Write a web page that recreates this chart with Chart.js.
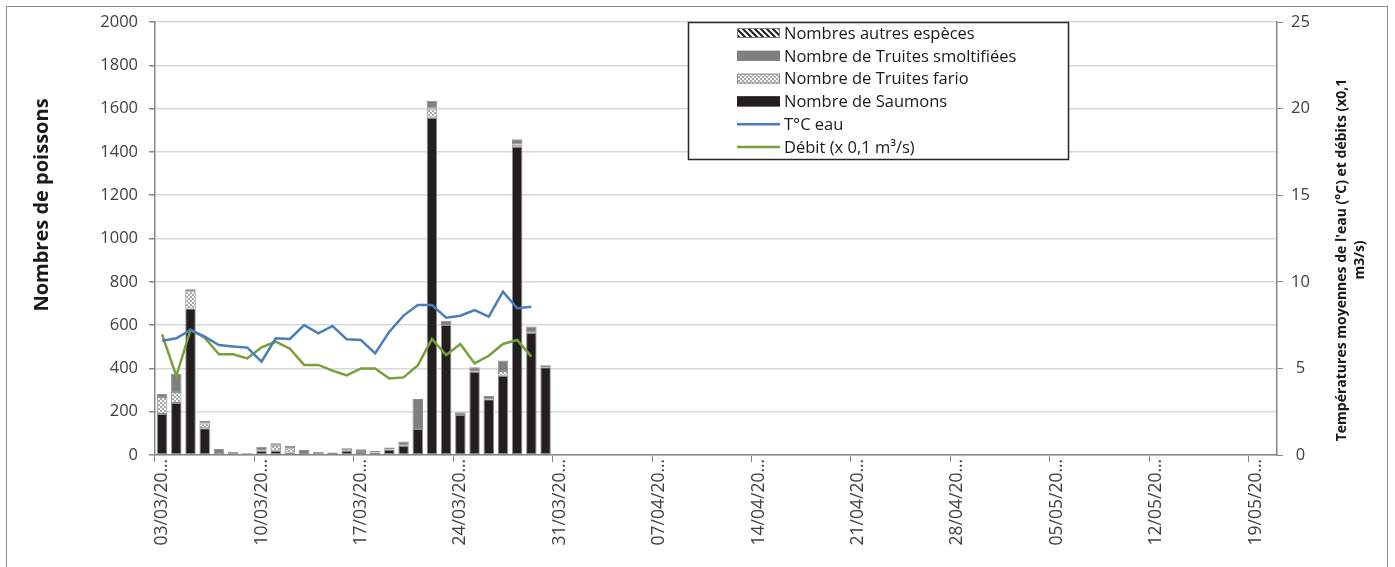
<!DOCTYPE html>
<html>
<head>
<meta charset="utf-8">
<title>Passages de poissons</title>
<script src="https://cdn.jsdelivr.net/npm/chart.js@4.4.0/dist/chart.umd.min.js"></script>
<style>
  html, body { margin: 0; padding: 0; background: #fff; }
  #wrap { position: relative; width: 1395px; height: 567px; }
</style>
</head>
<body>
<div id="wrap"><canvas id="fishChart" width="1395" height="567"></canvas></div>
<script>
// jours de piégeage
const jours = [
  '03/03','04/03','05/03','06/03','07/03','08/03','09/03','10/03','11/03','12/03',
  '13/03','14/03','15/03','16/03','17/03','18/03','19/03','20/03','21/03','22/03',
  '23/03','24/03','25/03','26/03','27/03','28/03','29/03','30/03','31/03',
  '01/04','02/04','03/04','04/04','05/04','06/04','07/04','08/04','09/04','10/04',
  '11/04','12/04','13/04','14/04','15/04','16/04','17/04','18/04','19/04','20/04',
  '21/04','22/04','23/04','24/04','25/04','26/04','27/04','28/04','29/04','30/04',
  '01/05','02/05','03/05','04/05','05/05','06/05','07/05','08/05','09/05','10/05',
  '11/05','12/05','13/05','14/05','15/05','16/05','17/05','18/05','19/05','20/05'
];

const saumons = [189, 240, 677, 123, 3, 0, 3, 20, 20, 11, 5, 0, 0, 20, 14, 11, 25, 43, 120, 1558, 600, 185, 385, 257, 366, 1424, 565, 405];
const truitesFario = [79, 51, 79, 23, 0, 0, 0, 0, 23, 20, 0, 0, 0, 0, 0, 0, 0, 0, 0, 43, 0, 0, 0, 0, 22, 10, 0, 0];
const truitesSmolt = [14, 83, 10, 11, 25, 15, 5, 18, 11, 11, 18, 15, 12, 11, 12, 7, 10, 19, 139, 34, 20, 12, 20, 15, 48, 24, 28, 9];
const autresEspeces = [0, 0, 0, 0, 0, 0, 0, 0, 0, 0, 0, 0, 0, 0, 0, 0, 0, 0, 0, 0, 0, 0, 0, 0, 0, 0, 0, 0];

const tempEau = [6.6, 6.74, 7.22, 6.83, 6.35, 6.27, 6.2, 5.39, 6.74, 6.7, 7.5, 7.02, 7.45, 6.68, 6.64, 5.87, 7.12, 8.05, 8.66, 8.66, 7.93, 8.04, 8.37, 7.99, 9.43, 8.47, 8.56];
const debit = [6.97, 4.56, 7.22, 6.77, 5.81, 5.81, 5.58, 6.22, 6.54, 6.14, 5.2, 5.2, 4.87, 4.6, 5.0, 5.0, 4.42, 4.48, 5.17, 6.7, 5.77, 6.41, 5.29, 5.73, 6.41, 6.64, 5.68];

const ticksPoissons = [0, 200, 400, 600, 800, 1000, 1200, 1400, 1600, 1800, 2000];
const ticksTemp = [0, 5, 10, 15, 20, 25];

const FONT = "'Open Sans', 'DejaVu Sans', sans-serif";
const AXE = '#868686';

// motifs de remplissage
function motifPoints() {
  const c = document.createElement('canvas');
  c.width = 4; c.height = 4;
  const g = c.getContext('2d');
  g.fillStyle = '#a9a9a9'; g.fillRect(0, 0, 4, 4);
  g.fillStyle = '#f4f4f4';
  g.fillRect(0, 0, 2, 2); g.fillRect(2, 2, 2, 2);
  return g.createPattern(c, 'repeat');
}
function motifHachures() {
  const c = document.createElement('canvas');
  c.width = 6; c.height = 6;
  const g = c.getContext('2d');
  g.fillStyle = '#ffffff'; g.fillRect(0, 0, 6, 6);
  g.strokeStyle = '#1e1e1e'; g.lineWidth = 2;
  g.beginPath();
  g.moveTo(-1, -1); g.lineTo(7, 7);
  g.moveTo(-4, 2); g.lineTo(4, 10);
  g.moveTo(2, -4); g.lineTo(10, 4);
  g.stroke();
  return g.createPattern(c, 'repeat');
}
const fillFario = motifPoints();
const fillAutres = motifHachures();

const legendeItems = [
  { txt: 'Nombres autres espèces', type: 'box', fill: fillAutres, stroke: '#7f7f7f' },
  { txt: 'Nombre de Truites smoltifiées', type: 'box', fill: '#7f7f7f', stroke: '#7f7f7f' },
  { txt: 'Nombre de Truites fario', type: 'box', fill: fillFario, stroke: '#8c8c8c' },
  { txt: 'Nombre de Saumons', type: 'box', fill: '#231f20', stroke: '#231f20' },
  { txt: 'T°C eau', type: 'line', stroke: '#4a7ebb' },
  { txt: 'Débit (x 0,1 m³/s)', type: 'line', stroke: '#77a03c' }
];

const habillage = {
  id: 'habillage',
  afterDraw(chart) {
    const ctx = chart.ctx;
    ctx.save();
    // cadre extérieur
    ctx.strokeStyle = '#8c8c8c';
    ctx.lineWidth = 1;
    ctx.strokeRect(6.5, 6.5, 1381, 620);

    // titres des axes
    ctx.fillStyle = '#1a1a1a';
    ctx.textAlign = 'center';
    ctx.textBaseline = 'middle';
    ctx.save();
    ctx.translate(42, 205);
    ctx.rotate(-Math.PI / 2);
    ctx.font = 'bold 20px ' + FONT;
    ctx.fillText('Nombres de poissons', 0, 0);
    ctx.restore();

    ctx.save();
    ctx.translate(1342, 260);
    ctx.rotate(-Math.PI / 2);
    ctx.font = 'bold 14px ' + FONT;
    ctx.fillText("Températures moyennes de l'eau (°C) et débits (x0,1", 0, 0);
    ctx.fillText('m3/s)', 0, 18);
    ctx.restore();

    // légende
    ctx.fillStyle = '#ffffff';
    ctx.fillRect(688, 22, 381, 138);
    ctx.strokeStyle = '#262626';
    ctx.lineWidth = 1.5;
    ctx.strokeRect(688.5, 22.5, 380, 137);
    ctx.font = '16.5px ' + FONT;
    ctx.textAlign = 'left';
    legendeItems.forEach((it, i) => {
      const y = 33 + i * 22.8;
      if (it.type === 'box') {
        ctx.fillStyle = it.fill;
        ctx.fillRect(737, y - 5, 43, 10);
        ctx.strokeStyle = it.stroke;
        ctx.lineWidth = 1;
        ctx.strokeRect(737.5, y - 4.5, 42, 9);
      } else {
        ctx.strokeStyle = it.stroke;
        ctx.lineWidth = 2.5;
        ctx.beginPath();
        ctx.moveTo(737, y);
        ctx.lineTo(780, y);
        ctx.stroke();
      }
      ctx.fillStyle = '#1a1a1a';
      ctx.fillText(it.txt, 784, y + 1);
    });
    ctx.restore();
  }
};

const barreCommun = {
  type: 'bar',
  yAxisID: 'y',
  stack: 'poissons',
  order: 2,
  barPercentage: 0.74,
  categoryPercentage: 1,
  borderWidth: 1,
  borderSkipped: false
};

new Chart(document.getElementById('fishChart'), {
  data: {
    labels: jours,
    datasets: [
      { ...barreCommun, label: 'Nombre de Saumons', data: saumons, backgroundColor: '#231f20', borderColor: '#8f8f8f' },
      { ...barreCommun, label: 'Nombre de Truites fario', data: truitesFario, backgroundColor: fillFario, borderColor: '#8f8f8f' },
      { ...barreCommun, label: 'Nombre de Truites smoltifiées', data: truitesSmolt, backgroundColor: '#7f7f7f', borderColor: '#8f8f8f' },
      { ...barreCommun, label: 'Nombres autres espèces', data: autresEspeces, backgroundColor: fillAutres, borderColor: '#8f8f8f' },
      {
        type: 'line', label: 'T°C eau', data: tempEau, yAxisID: 'y1', order: 0,
        borderColor: '#4a7ebb', borderWidth: 2.5, pointRadius: 0, tension: 0, fill: false
      },
      {
        type: 'line', label: 'Débit (x 0,1 m³/s)', data: debit, yAxisID: 'y1', order: 1,
        borderColor: '#77a03c', borderWidth: 2.5, pointRadius: 0, tension: 0, fill: false
      }
    ]
  },
  options: {
    responsive: false,
    animation: false,
    devicePixelRatio: 1,
    layout: { padding: { top: 22, left: 0, right: 0, bottom: 0 } },
    plugins: {
      legend: { display: false },
      tooltip: { enabled: false }
    },
    scales: {
      x: {
        stacked: true,
        offset: true,
        afterFit(scale) { scale.height = 112; },
        grid: {
          offset: true,
          drawOnChartArea: false,
          tickLength: 7,
          tickColor: (c) => (c.index % 7 === 0 ? AXE : 'rgba(0,0,0,0)')
        },
        border: { color: AXE, width: 1.5 },
        ticks: {
          autoSkip: false,
          minRotation: 90,
          maxRotation: 90,
          padding: -3,
          color: '#404040',
          font: { family: FONT, size: 17.5 },
          callback(v, i) { return i % 7 === 0 ? jours[i] + '/20…' : ''; }
        }
      },
      y: {
        stacked: true,
        position: 'left',
        min: 0,
        max: 2000,
        afterFit(scale) { scale.width = 155; },
        afterBuildTicks(scale) { scale.ticks = ticksPoissons.map(v => ({ value: v })); },
        grid: { color: '#d9d9d9', lineWidth: 1.5, tickColor: AXE, tickLength: 6 },
        border: { color: AXE, width: 1.5 },
        ticks: {
          padding: 11, color: '#404040', font: { family: FONT, size: 16.5 },
          callback(v) { return String(v); }
        }
      },
      y1: {
        position: 'right',
        min: 0,
        max: 25,
        afterFit(scale) { scale.width = 118; },
        afterBuildTicks(scale) { scale.ticks = ticksTemp.map(v => ({ value: v })); },
        grid: { drawOnChartArea: false, tickColor: AXE, tickLength: 6 },
        border: { color: AXE, width: 1.5 },
        ticks: {
          padding: 8, crossAlign: 'center', color: '#404040', font: { family: FONT, size: 16.5 },
          callback(v) { return String(v); }
        }
      }
    }
  },
  plugins: [habillage]
});
</script>
</body>
</html>
